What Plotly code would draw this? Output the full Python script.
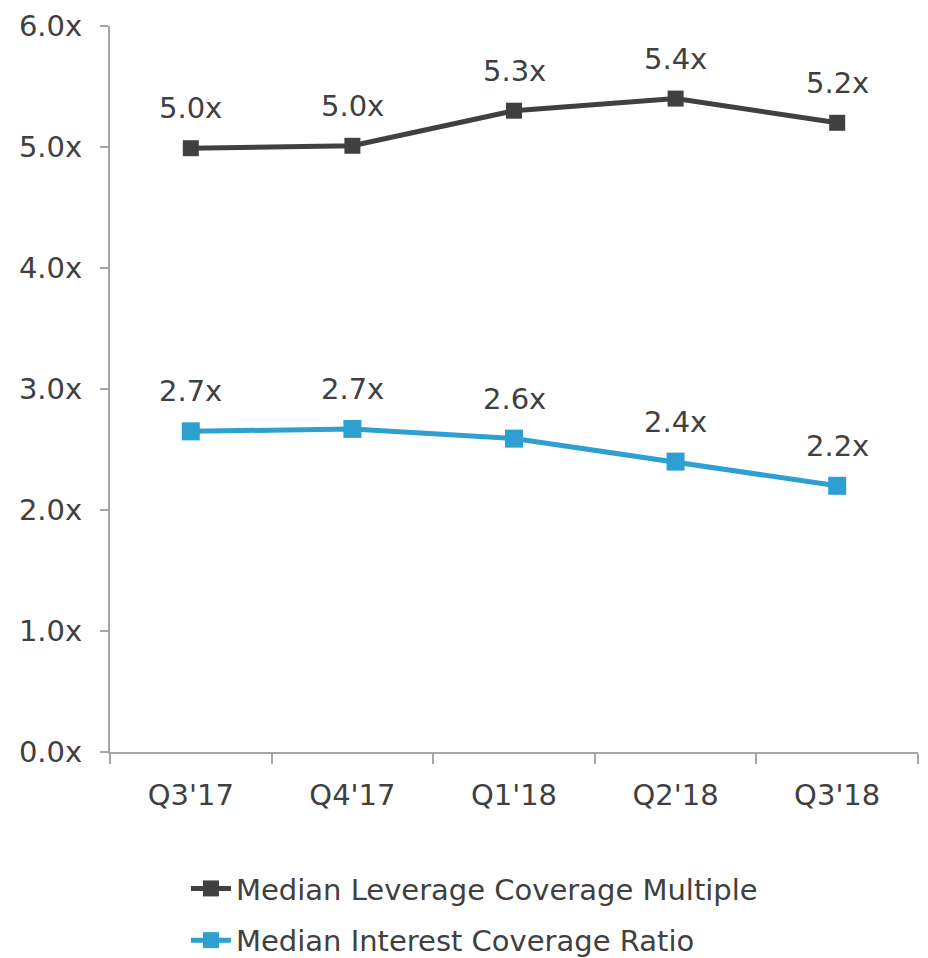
import plotly.graph_objects as go

categories = ["Q3'17", "Q4'17", "Q1'18", "Q2'18", "Q3'18"]
leverage = [4.99, 5.01, 5.30, 5.40, 5.20]
leverage_labels = ["5.0x", "5.0x", "5.3x", "5.4x", "5.2x"]
interest = [2.65, 2.67, 2.59, 2.40, 2.20]
interest_labels = ["2.7x", "2.7x", "2.6x", "2.4x", "2.2x"]
y_ticks = [0, 1, 2, 3, 4, 5, 6]
y_tick_text = ["0.0x", "1.0x", "2.0x", "3.0x", "4.0x", "5.0x", "6.0x"]

DARK = "#404040"
BLUE = "#2d9fd0"
TEXT = "#404040"
FONT = "DejaVu Sans"
FS = 29

fig = go.Figure()
fig.add_trace(go.Scatter(
    x=categories, y=leverage, mode="lines+markers",
    name="Median Leverage Coverage Multiple",
    line=dict(color=DARK, width=5),
    marker=dict(symbol="square", size=16, color=DARK),
    legendgroup="a",
))
fig.add_trace(go.Scatter(
    x=categories, y=interest, mode="lines+markers",
    name="Median Interest Coverage Ratio",
    line=dict(color=BLUE, width=5),
    marker=dict(symbol="square", size=18, color=BLUE),
    legendgroup="b",
))

annotations = []
for c, v, t in zip(categories, leverage, leverage_labels):
    annotations.append(dict(x=c, y=v, text=t, showarrow=False, yshift=40,
                            font=dict(size=FS, color=TEXT, family=FONT)))
for c, v, t in zip(categories, interest, interest_labels):
    annotations.append(dict(x=c, y=v, text=t, showarrow=False, yshift=40,
                            font=dict(size=FS, color=TEXT, family=FONT)))

fig.update_layout(
    width=928, height=958,
    margin=dict(l=102, r=18, t=18, b=214, autoexpand=False),
    paper_bgcolor="white", plot_bgcolor="white",
    font=dict(family=FONT, size=FS, color=TEXT),
    annotations=annotations,
    showlegend=True,
    legend=dict(
        orientation="v", x=0.094, xanchor="left", y=-0.153, yanchor="top",
        font=dict(size=FS, color=TEXT, family=FONT),
        tracegroupgap=11, itemwidth=40,
    ),
    xaxis=dict(
        type="category", tickson="boundaries", showline=True, automargin=False,
        linecolor="#a6a6a6", linewidth=2, ticks="outside", ticklen=10,
        tickcolor="#a6a6a6", tickwidth=2, showgrid=False, zeroline=False,
        ticklabelstandoff=16, range=[-0.5, 4.5], ticklabeloverflow="allow",
        tickfont=dict(size=FS, color=TEXT, family=FONT),
    ),
    yaxis=dict(
        range=[0, 6], tickvals=y_ticks, ticktext=y_tick_text, automargin=False,
        showline=True, linecolor="#a6a6a6", linewidth=2, ticks="outside",
        ticklen=8, tickcolor="#a6a6a6", tickwidth=2, showgrid=False,
        zeroline=False, ticklabelstandoff=12, ticklabeloverflow="allow",
        tickfont=dict(size=FS, color=TEXT, family=FONT),
    ),
)

fig.write_html("out.html")
